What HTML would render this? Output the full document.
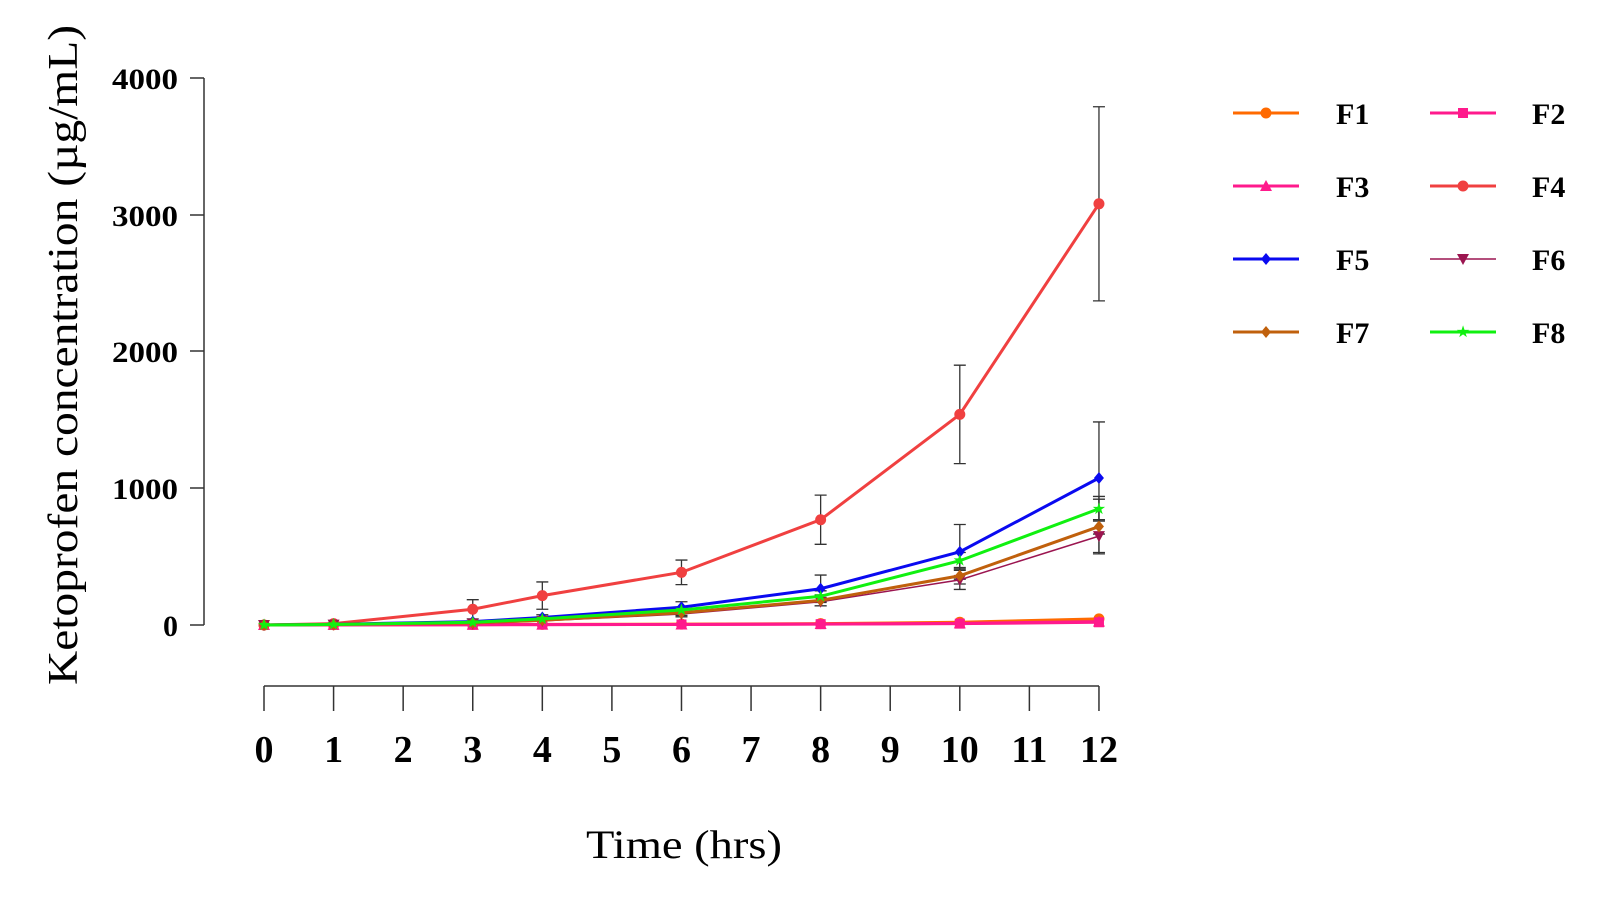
<!DOCTYPE html>
<html><head><meta charset="utf-8"><style>body{margin:0;background:#fff}svg{display:block}</style></head>
<body>
<svg width="1616" height="900" viewBox="0 0 1616 900" xmlns="http://www.w3.org/2000/svg" font-family="Liberation Serif, serif">
<g stroke="#333" stroke-width="1.5" fill="none">
<line x1="204" y1="78" x2="204" y2="625"/>
<line x1="190" y1="78" x2="204" y2="78"/><line x1="190" y1="215" x2="204" y2="215"/>
<line x1="190" y1="351" x2="204" y2="351"/><line x1="190" y1="488" x2="204" y2="488"/><line x1="190" y1="625" x2="204" y2="625"/>
<line x1="264" y1="686" x2="1099" y2="686"/>
</g>
<g stroke="#333" stroke-width="1.5" id="xt"></g>
<g font-size="30" font-weight="bold" text-anchor="end">
<text x="178" y="89" textLength="66" lengthAdjust="spacingAndGlyphs">4000</text><text x="178" y="226" textLength="66" lengthAdjust="spacingAndGlyphs">3000</text><text x="178" y="362" textLength="66" lengthAdjust="spacingAndGlyphs">2000</text><text x="178" y="499" textLength="66" lengthAdjust="spacingAndGlyphs">1000</text><text x="178" y="636">0</text>
</g>
<g id="xl" font-size="38" font-weight="bold" text-anchor="middle"></g>
<text x="684" y="858" font-size="40" text-anchor="middle" textLength="196" lengthAdjust="spacingAndGlyphs">Time (hrs)</text>
<text transform="translate(77,355) rotate(-90)" font-size="42" text-anchor="middle" textLength="660" lengthAdjust="spacingAndGlyphs">Ketoprofen concentration (µg/mL)</text>
<g id="plot"></g>
<g font-size="30" font-weight="bold">
<text x="1336" y="124">F1</text><text x="1532" y="124">F2</text>
<text x="1336" y="197">F3</text><text x="1532" y="197">F4</text>
<text x="1336" y="270">F5</text><text x="1532" y="270">F6</text>
<text x="1336" y="343">F7</text><text x="1532" y="343">F8</text>
</g>
<g id="leg"></g>
<script>
var NS="http://www.w3.org/2000/svg";
function X(t){return 264+t*69.58}function Y(v){return 625-v*0.13675}
function el(p,n,a){var e=document.createElementNS(NS,n);for(var k in a)e.setAttribute(k,a[k]);p.appendChild(e);return e}
var xt=document.getElementById('xt'),xl=document.getElementById('xl');
for(var t=0;t<=12;t++){el(xt,'line',{x1:X(t),y1:686,x2:X(t),y2:711});var tx=el(xl,'text',{x:X(t),y:762});tx.textContent=t}
var T=[0,1,3,4,6,8,10,12];
var S=[
{c:'#ff6a00',w:3,m:'circle',d:[0,2,4,5,6,10,20,45],e:[0,0,0,0,0,0,0,0]},
{c:'#ff1a8c',w:3,m:'square',d:[0,1,2,3,4,6,10,20],e:[0,0,0,0,0,0,0,0]},
{c:'#ff1a8c',w:3,m:'tri',d:[0,1,2,3,4,7,12,25],e:[0,0,0,0,0,0,0,0]},
{c:'#f04040',w:3,m:'circle',d:[0,10,115,215,385,770,1540,3080],e:[0,0,70,100,90,180,360,710]},
{c:'#0a0af0',w:3,m:'diamond',d:[0,5,25,55,130,265,535,1075],e:[0,0,0,20,40,100,200,410]},
{c:'#9b1550',w:1.5,m:'tridown',d:[0,3,10,30,80,170,330,650],e:[0,0,0,0,20,30,70,120]},
{c:'#c0600c',w:3,m:'diamond',d:[0,4,15,35,90,180,360,720],e:[0,0,0,0,20,40,60,200]},
{c:'#10f010',w:3,m:'star',d:[0,4,20,45,110,210,470,850],e:[0,0,0,0,20,40,60,90]}];
function mark(g,m,x,y,c,s){s=s||1;
 if(m=='circle')el(g,'circle',{cx:x,cy:y,r:5.5*s,fill:c});
 else if(m=='square')el(g,'rect',{x:x-5,y:y-5,width:10,height:10,fill:c});
 else if(m=='tri')el(g,'polygon',{points:(x)+','+(y-6)+' '+(x-6)+','+(y+5)+' '+(x+6)+','+(y+5),fill:c});
 else if(m=='tridown')el(g,'polygon',{points:(x)+','+(y+6)+' '+(x-6)+','+(y-5)+' '+(x+6)+','+(y-5),fill:c});
 else if(m=='diamond')el(g,'polygon',{points:x+','+(y-6)+' '+(x+5)+','+y+' '+x+','+(y+6)+' '+(x-5)+','+y,fill:c});
 else el(g,'text',{x:x,y:y+5,'font-size':16,'text-anchor':'middle',fill:c}).textContent='★';}
var P=document.getElementById('plot');
S.forEach(function(s){
 s.d.forEach(function(v,i){if(s.e[i]){var x=X(T[i]);el(P,'path',{d:'M'+(x-6)+' '+Y(v+s.e[i])+'H'+(x+6)+'M'+x+' '+Y(v+s.e[i])+'V'+Y(v-s.e[i])+'M'+(x-6)+' '+Y(v-s.e[i])+'H'+(x+6),stroke:'#333','stroke-width':1.3,fill:'none'})}});
});
S.forEach(function(s){
 el(P,'polyline',{points:s.d.map(function(v,i){return X(T[i])+','+Y(v)}).join(' '),fill:'none',stroke:s.c,'stroke-width':s.w});
 s.d.forEach(function(v,i){mark(P,s.m,X(T[i]),Y(v),s.c)});
});
var L=document.getElementById('leg'),pos=[[1233,113],[1430,113],[1233,186],[1430,186],[1233,259],[1430,259],[1233,332],[1430,332]];
S.forEach(function(s,i){var p=pos[i];el(L,'line',{x1:p[0],y1:p[1],x2:p[0]+66,y2:p[1],stroke:s.c,'stroke-width':s.w});mark(L,s.m,p[0]+33,p[1],s.c)});
</script>
</svg>
</body></html>
